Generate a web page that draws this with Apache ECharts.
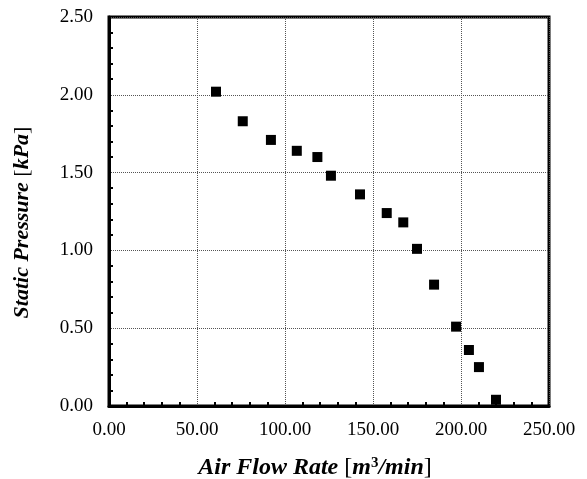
<!DOCTYPE html>
<html>
<head>
<meta charset="utf-8">
<script src="https://cdn.jsdelivr.net/npm/echarts@6/dist/echarts.min.js"></script>
<style>html,body{margin:0;padding:0;background:#fff}#c{width:587px;height:479px}</style>
</head>
<body>
<div id="c"></div>
<script>
var flowRate = [60.8, 76.0, 92.0, 106.7, 118.4, 126.1, 142.6, 157.8, 167.2, 175.0, 184.7, 197.2, 204.5, 210.2, 219.9];
var staticPressure = [2.02, 1.83, 1.71, 1.64, 1.60, 1.48, 1.36, 1.24, 1.18, 1.01, 0.78, 0.51, 0.36, 0.25, 0.04];
var xTitle = '{b|Air Flow Rate }{r|[}{b|m}{sup|3}{b|/min}{r|]}';
var yTitle = '{b|Static Pressure }{r|[}{b|kPa}{r|]}';

var chart = echarts.init(document.getElementById('c'));
var font = 'Liberation Serif';
function makeRich(fs) {
  return {
    b: {fontFamily: font, fontSize: fs, fontWeight: 'bold', fontStyle: 'italic', color: '#000'},
    r: {fontFamily: font, fontSize: fs, color: '#000'},
    sup: {fontFamily: font, fontSize: Math.round(fs * 0.62), fontWeight: 'bold', color: '#000', verticalAlign: 'top', padding: [0, 0, 8, 0]}
  };
}
function axisCommon(min, max, interval, title, gap, pad, margin, fs) {
  return {
    type: 'value', min: min, max: max, interval: interval,
    name: title, nameLocation: 'middle', nameGap: gap,
    nameTextStyle: {fontFamily: font, fontSize: fs, color: '#000', rich: makeRich(fs), padding: pad},
    axisLine: {show: true, lineStyle: {color: '#000', width: 3}},
    axisTick: {show: false, inside: true},
    minorTick: {show: true, splitNumber: 5, length: 4, lineStyle: {color: '#000', width: 2}},
    axisLabel: {fontFamily: font, fontSize: 19, color: '#000', margin: margin,
      formatter: function (v) { return v.toFixed(2); }},
    splitLine: {show: true, lineStyle: {color: '#555', type: [1, 1], width: 1}}
  };
}
var xA = axisCommon(0, 250, 50, xTitle, 50, [0, 28, 0, 0], 15, 24);
var yA = axisCommon(0, 2.5, 0.5, yTitle, 76, [0, 22, 0, 0], 16, 22);
chart.setOption({
  animation: false,
  backgroundColor: '#fff',
  grid: {left: 109, right: 38, top: 17, bottom: 73, show: true, borderColor: '#000', borderWidth: 3,
    outerBoundsMode: 'none', containLabel: false},
  xAxis: xA,
  yAxis: yA,
  series: [{
    type: 'scatter', symbol: 'rect', symbolSize: 10,
    itemStyle: {color: '#000', opacity: 1},
    data: flowRate.map(function (x, i) { return [x, staticPressure[i]]; })
  }]
});
</script>
</body>
</html>
